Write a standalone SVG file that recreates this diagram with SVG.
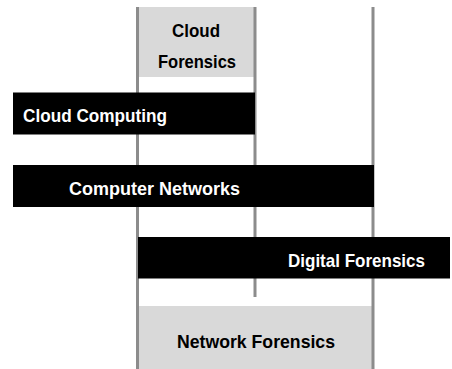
<svg xmlns="http://www.w3.org/2000/svg" width="452" height="369" viewBox="0 0 452 369">
<style>
.box{fill:#d9d9d9}
.bar{fill:#000}
.line{stroke:#8c8c8c;stroke-width:3;fill:none}
.t{font-family:"Liberation Sans",Arial,sans-serif;font-weight:bold;font-size:18.5px}
.dark{fill:#000}
.light{fill:#fff}
</style>
<rect width="452" height="369" fill="#fff"/>
<g id="cloud-forensics">
<rect class="box" x="137.5" y="7" width="117.5" height="70"/>
<text class="t dark" x="172" y="37" textLength="48" lengthAdjust="spacingAndGlyphs">Cloud</text>
<text class="t dark" x="158" y="68" textLength="78" lengthAdjust="spacingAndGlyphs">Forensics</text>
</g>
<g id="network-forensics">
<rect class="box" x="137.5" y="306" width="235.5" height="63"/>
<text class="t dark" x="177" y="348" textLength="158" lengthAdjust="spacingAndGlyphs">Network Forensics</text>
</g>
<g id="connectors">
<line class="line" x1="137.5" y1="7" x2="137.5" y2="369"/>
<line class="line" x1="255" y1="7" x2="255" y2="297"/>
<line class="line" x1="373" y1="7" x2="373" y2="369"/>
</g>
<g id="cloud-computing">
<rect class="bar" x="13" y="92.5" width="242" height="42"/>
<text class="t light" x="23" y="122" textLength="144" lengthAdjust="spacingAndGlyphs">Cloud Computing</text>
</g>
<g id="computer-networks">
<rect class="bar" x="13" y="165" width="361" height="42"/>
<text class="t light" x="69" y="195" textLength="171" lengthAdjust="spacingAndGlyphs">Computer Networks</text>
</g>
<g id="digital-forensics">
<rect class="bar" x="138" y="237" width="312" height="41.5"/>
<text class="t light" x="288" y="267" textLength="137" lengthAdjust="spacingAndGlyphs">Digital Forensics</text>
</g>
</svg>
